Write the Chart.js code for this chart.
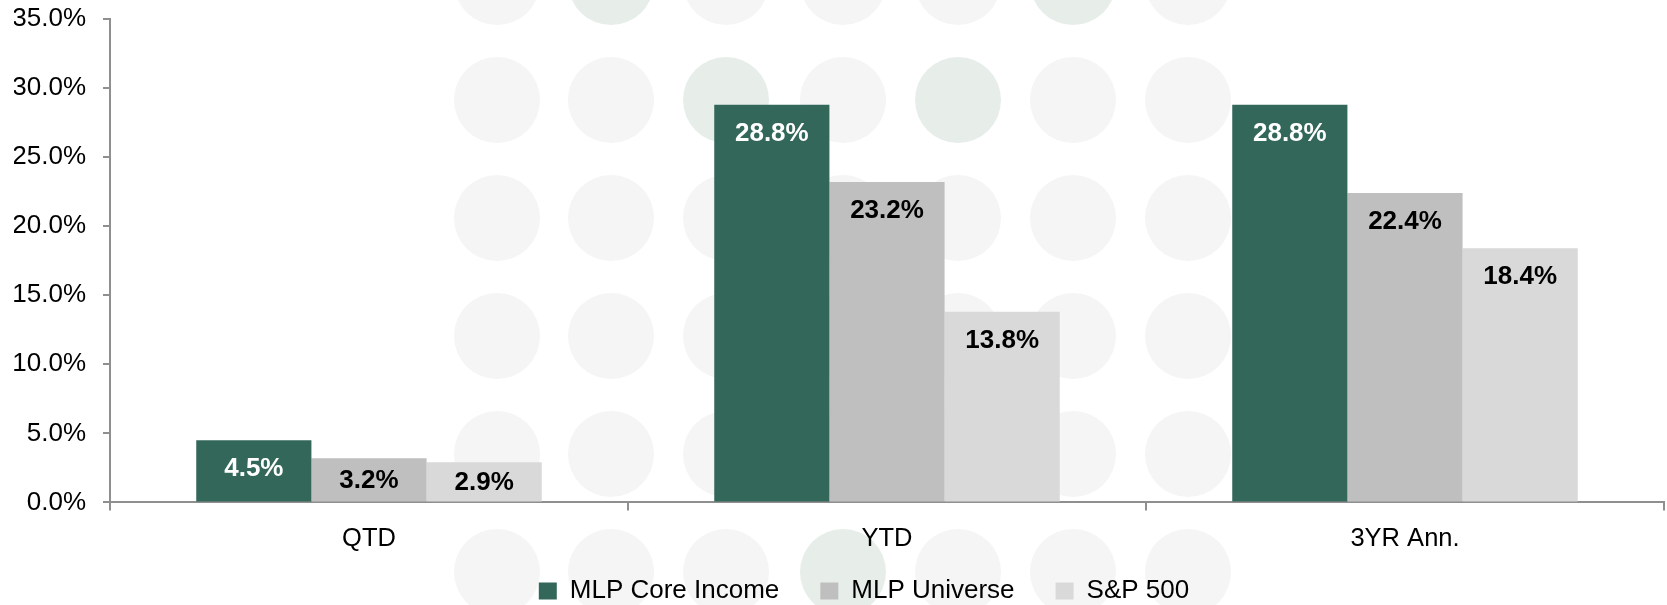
<!DOCTYPE html>
<html>
<head>
<meta charset="utf-8">
<script src="https://cdn.jsdelivr.net/npm/chart.js@4.4.1/dist/chart.umd.min.js"></script>
<style>
  html, body { margin: 0; padding: 0; background: #fff; }
  #wrap { width: 1667px; height: 605px; position: relative; }
</style>
</head>
<body>
<div id="wrap"><canvas id="canvas"></canvas></div>
<script>
// data
var categories = ["QTD", "YTD", "3YR Ann."];
var seriesNames = ["MLP Core Income", "MLP Universe", "S&P 500"];
var coreIncome = [4.5, 28.8, 28.8];
var mlpUniverse = [3.2, 23.2, 22.4];
var sp500 = [2.9, 13.8, 18.4];
var yTicks = [0, 5, 10, 15, 20, 25, 30, 35];

(function(){
	var canvas = document.getElementById("canvas");
	var FONT = "'Liberation Sans', Arial, sans-serif";
	var axisColor = "#8f8f8f";

	Chart.defaults.font.family = FONT;
	Chart.defaults.font.size = 25;
	Chart.defaults.color = "#000";

	// faint dotted watermark behind the chart
	var backdrop = {
		id: "backdrop",
		beforeDraw: function(chart){
			var ctx = chart.ctx;
			var cols = [497, 611, 726, 843, 958, 1073, 1188];
			var rows = [-18, 100, 218, 336, 454, 572];
			var greens = {"0,1": 1, "0,5": 1, "1,2": 1, "1,4": 1, "5,3": 1};
			ctx.save();
			ctx.fillStyle = "#fff";
			ctx.fillRect(0, 0, chart.width, chart.height);
			rows.forEach(function(cy, r){
				cols.forEach(function(cx, c){
					ctx.beginPath();
					ctx.arc(cx, cy, 43, 0, Math.PI * 2);
					ctx.fillStyle = greens[r + "," + c] ? "#e7eeea" : "#f5f5f6";
					ctx.fill();
				});
			});
			ctx.restore();
		}
	};

	// value labels inside the top of each bar
	var barLabels = {
		id: "barLabels",
		afterDatasetsDraw: function(chart){
			var ctx = chart.ctx;
			ctx.save();
			ctx.font = "bold 26px " + FONT;
			ctx.textAlign = "center";
			ctx.textBaseline = "middle";
			chart.data.datasets.forEach(function(ds, i){
				var meta = chart.getDatasetMeta(i);
				meta.data.forEach(function(bar, j){
					var y = bar.y + 28;
					if (y + 13 > bar.base - 3) y = (bar.y + bar.base) / 2;
					ctx.fillStyle = i === 0 ? "#fff" : "#000";
					ctx.fillText(ds.data[j].toFixed(1) + "%", bar.x, y + 1);
				});
			});
			ctx.restore();
		}
	};

	// put the legend row where it sits in the original
	var legendShift = {
		id: "legendShift",
		afterLayout: function(chart){
			var lg = chart.legend;
			lg.left += 25;
			lg.right += 25;
			lg.top = 537;
			lg.bottom = chart.height;
			lg.height = lg.bottom - lg.top;
		}
	};

	new Chart(canvas, {
		type: "bar",
		data: {
			labels: categories,
			datasets: [
				{ label: seriesNames[0], data: coreIncome, backgroundColor: "#336759", borderWidth: 0 },
				{ label: seriesNames[1], data: mlpUniverse, backgroundColor: "#bfbfbf", borderWidth: 0 },
				{ label: seriesNames[2], data: sp500, backgroundColor: "#d9d9d9", borderWidth: 0 }
			]
		},
		options: {
			responsive: true,
			maintainAspectRatio: false,
			animation: false,
			layout: { padding: { left: 14, right: 3, top: 19, bottom: 0 } },
			datasets: { bar: { categoryPercentage: 0.667, barPercentage: 1.0 } },
			scales: {
				x: {
					grid: { offset: true, drawOnChartArea: false, tickLength: 8, color: axisColor, lineWidth: 2 },
					border: { color: axisColor, width: 2 },
					ticks: { padding: 13, color: "#000", font: { size: 25.5 } }
				},
				y: {
					min: 0,
					max: 35,
					afterBuildTicks: function(axis){
						axis.ticks = yTicks.map(function(v){ return { value: v }; });
					},
					afterFit: function(axis){
						axis.width = 96;
						axis.paddingTop = 0;
						axis.paddingBottom = 0;
					},
					grid: { drawOnChartArea: false, tickLength: 7, color: axisColor, lineWidth: 2 },
					border: { color: axisColor, width: 2 },
					ticks: {
						padding: 17,
						color: "#000",
						font: { size: 26 },
						callback: function(v){ return v.toFixed(1) + "%"; }
					}
				}
			},
			plugins: {
				legend: {
					position: "bottom",
					maxHeight: 38,
					labels: {
						boxWidth: 18,
						boxHeight: 17,
						padding: 41,
						color: "#000",
						font: { size: 26 }
					}
				},
				tooltip: { enabled: false }
			}
		},
		plugins: [backdrop, barLabels, legendShift]
	});
}());
</script>
</body>
</html>
